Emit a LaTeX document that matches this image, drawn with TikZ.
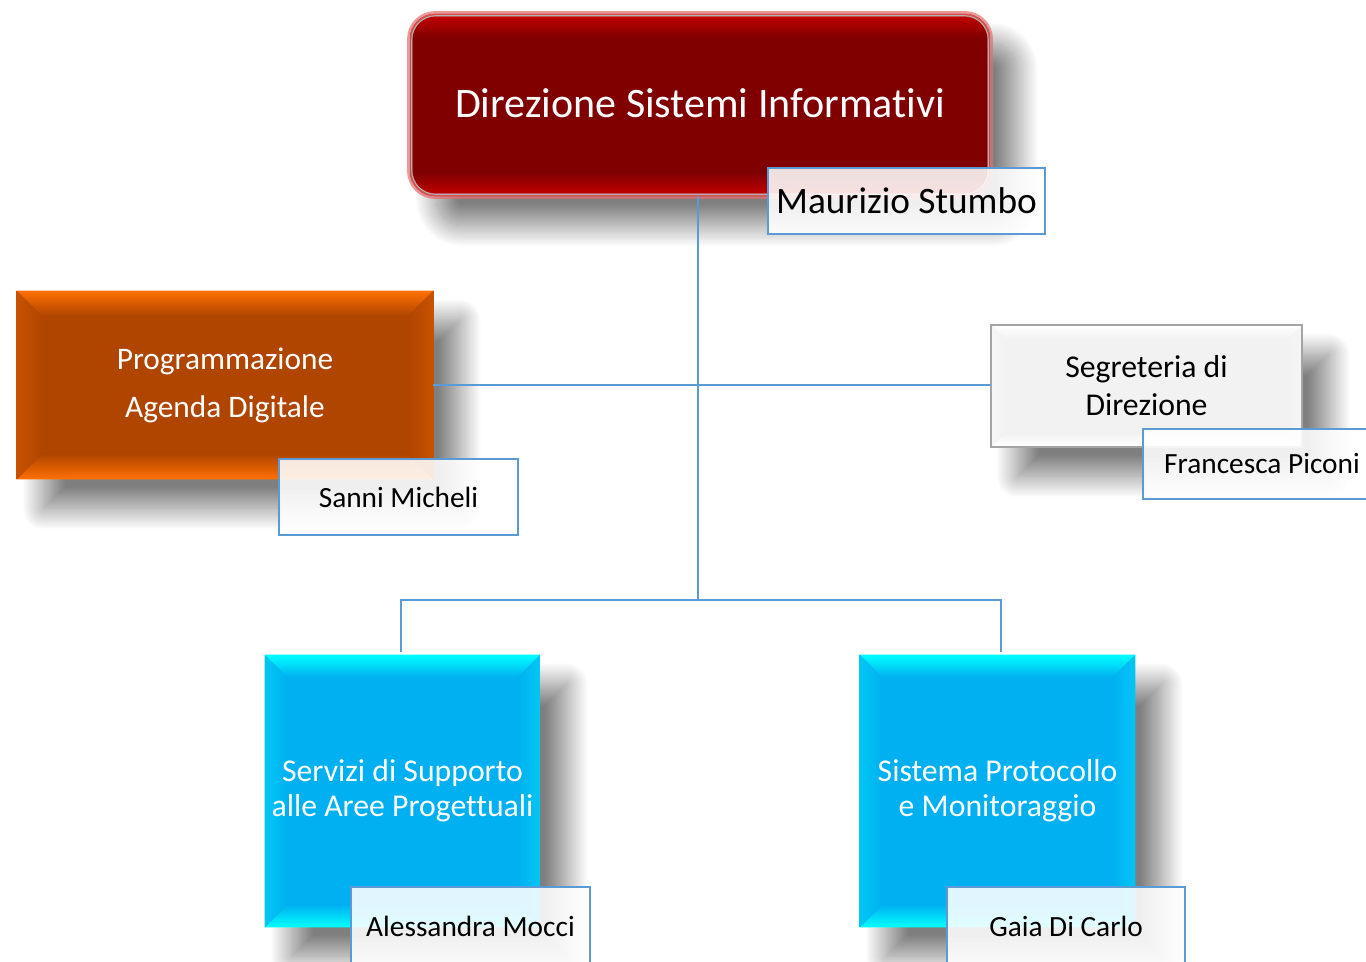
\documentclass[tikz,border=0pt]{standalone}
\usepackage{fontspec}
\setmainfont{Carlito}[Ligatures=NoCommon]
\usetikzlibrary{calc,shadows.blur}
\pgfdeclarelayer{shadowlayer}
\pgfdeclarelayer{bglayer}
\pgfsetlayers{shadowlayer,bglayer,main}
\definecolor{dirdark}{RGB}{128,0,0}
\definecolor{dirlight}{RGB}{200,0,0}
\definecolor{dirglow}{RGB}{225,110,110}
\definecolor{orbase}{RGB}{176,69,0}
\definecolor{orlight}{RGB}{255,112,0}
\definecolor{blbase}{RGB}{0,176,240}
\definecolor{bllight}{RGB}{0,255,255}
\definecolor{grbase}{RGB}{242,242,242}
\definecolor{grlight}{RGB}{255,255,255}
\definecolor{grborder}{RGB}{165,165,165}
\definecolor{linkblue}{RGB}{91,155,213}
\newcommand\bevelbox[4]{%
 \fill[#2] (#1.north west) rectangle (#1.south east);
 \shade[top color=#3, bottom color=#2] (#1.north west) -- (#1.north east) -- ($(#1.north east)+(-#4,-#4)$) -- ($(#1.north west)+(#4,-#4)$) -- cycle;
 \shade[top color=#2, bottom color=#3] (#1.south west) -- (#1.south east) -- ($(#1.south east)+(-#4,#4)$) -- ($(#1.south west)+(#4,#4)$) -- cycle;
 \shade[left color=#3!30!#2, right color=#2] (#1.north west) -- ($(#1.north west)+(#4,-#4)$) -- ($(#1.south west)+(#4,#4)$) -- (#1.south west) -- cycle;
 \shade[left color=#2, right color=#3!30!#2] (#1.north east) -- ($(#1.north east)+(-#4,-#4)$) -- ($(#1.south east)+(-#4,#4)$) -- (#1.south east) -- cycle;
}
\tikzset{
 unitbox/.style={rectangle, inner sep=0pt, align=center, text=white},
 namebox/.style={rectangle, draw=linkblue, line width=1.5pt, fill=white, fill opacity=0.88, text opacity=1, text=black, inner sep=0pt, font=\fontsize{22}{26}\selectfont},
 link/.style={draw=linkblue, line width=0.8pt},
 dropshadow/.style={blur shadow={shadow xshift=20pt, shadow yshift=-22pt, shadow blur radius=16pt, shadow blur steps=30, shadow opacity=50}}
}
\begin{document}
\begin{tikzpicture}[x=0.75pt,y=-0.75pt]
\useasboundingbox (0,0) rectangle (1366,961);
% main units
\node[unitbox, minimum width=435pt, minimum height=136.5pt, font=\fontsize{31.5}{38}\selectfont] (dir) at (700,105) {\raisebox{3pt}{Direzione Sistemi Informativi}};
\node[unitbox, minimum width=312pt, minimum height=141pt, font=\fontsize{23.5}{36}\selectfont] (pad) at (225,385) {\raisebox{2pt}{Programmazione}\\\raisebox{2pt}{Agenda Digitale}};
\node[unitbox, text=black, minimum width=233.25pt, minimum height=91.5pt, font=\fontsize{23.8}{28.5}\selectfont] (seg) at (1146.5,386) {Segreteria di\\Direzione};
\node[unitbox, minimum width=206.25pt, minimum height=204pt, font=\fontsize{23.8}{26.3}\selectfont] (ssa) at (402.5,791) {Servizi di Supporto\\alle Aree Progettuali};
\node[unitbox, minimum width=206.25pt, minimum height=204pt, font=\fontsize{23.8}{26.3}\selectfont] (spm) at (997.5,791) {Sistema Protocollo\\e Monitoraggio};
% shadows
\begin{pgfonlayer}{shadowlayer}
 \path[dropshadow, rounded corners=19pt] (dir.north west) rectangle (dir.south east);
 \path[dropshadow] (pad.north west) rectangle (pad.south east);
 \path[dropshadow] (seg.north west) rectangle (seg.south east);
 \path[dropshadow] (ssa.north west) rectangle (ssa.south east);
 \path[dropshadow] (spm.north west) rectangle (spm.south east);
\end{pgfonlayer}
% fills
\begin{pgfonlayer}{bglayer}
 \begin{scope}
  \clip[rounded corners=19pt] (dir.north west) rectangle (dir.south east);
  \fill[dirdark] (dir.north west) rectangle (dir.south east);
  \shade[top color=dirlight, bottom color=dirdark] (dir.north west) rectangle ($(dir.north east)+(0,-18pt)$);
  \shade[top color=dirdark, bottom color=dirlight] ($(dir.south west)+(0,18pt)$) rectangle (dir.south east);
 \end{scope}
 \draw[dirglow, line width=4pt, opacity=0.7, rounded corners=19pt] (dir.north west) rectangle (dir.south east);
 \draw[gray!60, line width=0.8pt, rounded corners=18pt] ($(dir.north west)+(1.5pt,-1.5pt)$) rectangle ($(dir.south east)+(-1.5pt,1.5pt)$);
 \bevelbox{pad}{orbase}{orlight}{19pt}
 \bevelbox{seg}{grbase}{grlight}{11pt}
 \draw[grborder, line width=1.3pt] (seg.north west) rectangle (seg.south east);
 \bevelbox{ssa}{blbase}{bllight}{17pt}
 \bevelbox{spm}{blbase}{bllight}{17pt}
\end{pgfonlayer}
% connectors
\coordinate (bus) at (698,600);
\draw[link] (bus |- dir.south) -- (bus);
\draw[link] (pad.east) -- (pad.east -| seg.west);
\draw[link] ($(ssa.north)+(-1.5,-3)$) |- (bus) -| ($(spm.north)+(3.5,-3)$);
% name boxes
\node[namebox, minimum width=207.75pt, minimum height=49.5pt, font=\fontsize{28}{32}\selectfont] (ms) at (906.5,201) {Maurizio Stumbo};
\node[namebox, minimum width=179.25pt, minimum height=57pt] (sm) at (398.5,497) {Sanni Micheli};
\node[namebox, minimum width=178.5pt, minimum height=52.5pt] (fp) at (1262,464) {Francesca Piconi};
\node[namebox, minimum width=179.25pt, minimum height=58.5pt] (am) at (470.5,926) {Alessandra Mocci};
\node[namebox, minimum width=178.5pt, minimum height=58.5pt] (gdc) at (1066,926) {Gaia Di Carlo};
\end{tikzpicture}
\end{document}
